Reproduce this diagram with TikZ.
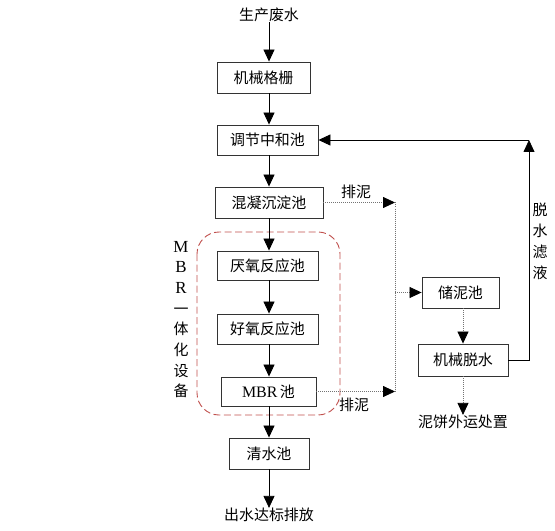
\documentclass[tikz,border=0pt]{standalone}
\usepackage{fontspec}
\setmainfont{Liberation Serif}
\newfontfamily\cjk{Noto Sans CJK SC}
\usetikzlibrary{arrows.meta,calc}
\definecolor{grpred}{RGB}{192,80,77}
\begin{document}
\begin{tikzpicture}[x=1bp,y=-1bp,
  box/.style={draw=black!80, line width=0.9bp, inner sep=0pt, font=\cjk\fontsize{15}{17}\selectfont},
  txt/.style={inner sep=0pt, font=\cjk\fontsize{15}{17}\selectfont},
  tip/.style={-{Triangle[length=12bp,width=11bp,color=black]}},
  flow/.style={draw=black, line width=0.8bp, tip},
  dotline/.style={draw=black!55, line width=0.8bp, dash pattern=on 1bp off 1bp},
  dot/.style={dotline, tip},
  mbrgroup/.style={draw=grpred, line width=0.9bp, dash pattern=on 7bp off 3.5bp, rounded corners=22bp},
]
\useasboundingbox (0,0) rectangle (555,531);

% group frame
\draw[mbrgroup] (197,232) rectangle (340,415);

% main column
\coordinate (col) at (269,0);
\node[txt] (src) at (269,15) {生产废水};
\node[box, minimum width=93bp, minimum height=31bp] (jx) at (263.5,77.5) {机械格栅};
\node[box, minimum width=101bp, minimum height=30bp] (tj) at (267.5,140) {调节中和池};
\node[box, minimum width=108bp, minimum height=31bp] (hn) at (269,202.5) {混凝沉淀池};
\node[box, minimum width=101bp, minimum height=29bp] (ya) at (267.5,265.5) {厌氧反应池};
\node[box, minimum width=101bp, minimum height=30bp] (hy) at (267.5,329) {好氧反应池};
\node[box, minimum width=95bp, minimum height=29bp] (mbr) at (268.5,391.5) {{\rmfamily\fontsize{16}{17}\selectfont MBR}\,池};
\node[box, minimum width=80bp, minimum height=31bp] (qs) at (269,453.5) {清水池};
\node[txt] (out) at (269,515) {出水达标排放};

\draw[flow] (src.south -| col) -- (jx.north -| col);
\draw[flow] (jx.south -| col) -- (tj.north -| col);
\draw[flow] (tj.south -| col) -- (hn.north -| col);
\draw[flow] (hn.south -| col) -- (ya.north -| col);
\draw[flow] (ya.south -| col) -- (hy.north -| col);
\draw[flow] (hy.south -| col) -- (mbr.north -| col);
\draw[flow] (mbr.south -| col) -- (qs.north -| col);
\draw[flow] (qs.south -| col) -- (out.north -| col);

% group label
\node[inner sep=0pt, align=center, font=\fontsize{17}{20.7}\selectfont] (glabel) at (181,319.5)
  {M\\B\\R\\{\cjk\fontsize{15}{20.7}\selectfont 一}\\{\cjk\fontsize{15}{20.7}\selectfont 体}\\{\cjk\fontsize{15}{20.7}\selectfont 化}\\{\cjk\fontsize{15}{20.7}\selectfont 设}\\{\cjk\fontsize{15}{20.7}\selectfont 备}};

% sludge branch
\node[box, minimum width=77bp, minimum height=31bp] (cn) at (460.5,292.5) {储泥池};
\node[box, minimum width=90bp, minimum height=32bp] (jt) at (463,360) {机械脱水};
\node[txt] (nb) at (463,422) {泥饼外运处置};

\coordinate (v1) at (395,202.5);
\coordinate (v2) at (395,391.5);
\coordinate (v3) at (395,292.5);
\draw[dot] (hn.east) -- (v1);
\draw[dot] (mbr.east) -- (v2);
\draw[dotline] (v1) -- (v2);
\draw[dot] (v3) -- (cn.west);
\draw[dot] (cn.south -| jt.north) -- (jt.north);
\draw[dot] (jt.south) -- (nb.north);
\node[txt] (pn1) at (356,192) {排泥};
\node[txt] (pn2) at (354,405) {排泥};

% filtrate return
\coordinate (c1) at (529,140);
\draw[flow] (jt.east) -| (c1);
\draw[flow] (c1) -- (tj.east);
\node[inner sep=0pt, align=center, font=\cjk\fontsize{15}{21}\selectfont] (lq) at (540,241)
  {脱\\水\\滤\\液};
\end{tikzpicture}
\end{document}
